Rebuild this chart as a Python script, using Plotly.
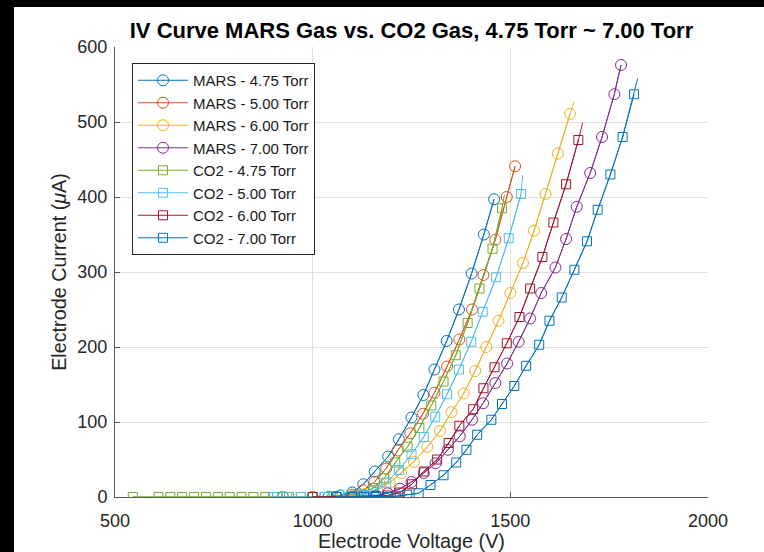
import plotly.graph_objects as go

# ---- measured IV data (voltage in V, current in uA) ----
mars_475_v = [925, 1000, 1040, 1070, 1100, 1128, 1157, 1191, 1218, 1250, 1280, 1308, 1339, 1370, 1402, 1433, 1459]
mars_475_i = [0, 0, 0, 2, 6, 17, 34, 54, 77, 106, 136, 170, 208, 250, 298, 350, 397]

mars_500_v = [925, 1000, 1050, 1100, 1128, 1156, 1186, 1215, 1247, 1279, 1308, 1340, 1371, 1403, 1432, 1462, 1491, 1512]
mars_500_i = [0, 0, 0, 3, 9, 20, 38, 62, 85, 111, 139, 174, 210, 250, 296, 343, 400, 441]

mars_600_v = [925, 1000, 1050, 1100, 1133, 1163, 1195, 1224, 1256, 1290, 1322, 1351, 1382, 1411, 1439, 1470, 1500, 1532, 1560, 1589, 1620, 1651]
mars_600_i = [0, 0, 0, 1, 4, 9, 19, 32, 47, 67, 88, 113, 138, 168, 200, 235, 272, 312, 355, 404, 458, 511]
mars_600_tip = ([1661], [527])

mars_700_v = [1060, 1100, 1130, 1160, 1190, 1221, 1250, 1281, 1311, 1342, 1372, 1403, 1431, 1462, 1492, 1521, 1550, 1578, 1614, 1641, 1668, 1702, 1732, 1763, 1780]
mars_700_i = [0, 0, 1, 2, 5, 11, 20, 32, 45, 63, 81, 103, 125, 152, 178, 207, 238, 272, 306, 344, 387, 432, 480, 537, 576]

co2_475_v = [545, 610, 640, 670, 700, 730, 760, 790, 820, 850, 880, 910, 940, 970, 1000, 1030, 1060, 1090, 1120,
             1153, 1181, 1209, 1240, 1270, 1300, 1331, 1362, 1392, 1422, 1455, 1479]
co2_475_i = [0, 0, 0, 0, 0, 0, 0, 0, 0, 0, 0, 0, 0, 0, 0, 0, 0, 0, 3,
             12, 25, 46, 67, 92, 122, 154, 189, 232, 278, 331, 385]
co2_475_tip = ([1485], [403])

co2_500_v = [900, 935, 970, 1000, 1030, 1060, 1090, 1125, 1155, 1186, 1218, 1250, 1281, 1310, 1340, 1370, 1401, 1430, 1464, 1496, 1527]
co2_500_i = [0, 0, 0, 0, 0, 0, 0, 3, 9, 19, 36, 57, 80, 107, 137, 170, 207, 247, 293, 345, 404]
co2_500_tip = ([1531], [429])

co2_600_v = [1000, 1060, 1100, 1130, 1160, 1190, 1220, 1251, 1281, 1315, 1344, 1371, 1406, 1432, 1460, 1491, 1523, 1550, 1581, 1609, 1641, 1672]
co2_600_i = [0, 0, 0, 0, 1, 2, 6, 17, 34, 50, 72, 95, 117, 145, 173, 205, 240, 278, 320, 366, 417, 476]
co2_600_tip = ([1683], [499])

co2_700_v = [1060, 1100, 1130, 1160, 1190, 1210, 1239, 1268, 1298, 1331, 1363, 1389, 1416, 1452, 1479, 1510, 1540,
             1573, 1599, 1630, 1662, 1694, 1721, 1753, 1784, 1813]
co2_700_i = [0, 0, 0, 0, 0, 1, 3, 5, 16, 29, 46, 63, 83, 103, 124, 148, 175,
             203, 235, 266, 303, 341, 383, 430, 480, 537]
co2_700_tip = ([1822], [558])

series = [
    ("MARS - 4.75 Torr", mars_475_v, mars_475_i, None, "#0072BD", "circle-open", 11),
    ("MARS - 5.00 Torr", mars_500_v, mars_500_i, None, "#D95319", "circle-open", 11),
    ("MARS - 6.00 Torr", mars_600_v, mars_600_i, mars_600_tip, "#EDB120", "circle-open", 11),
    ("MARS - 7.00 Torr", mars_700_v, mars_700_i, None, "#7E2F8E", "circle-open", 11),
    ("CO2 - 4.75 Torr", co2_475_v, co2_475_i, co2_475_tip, "#77AC30", "square-open", 9),
    ("CO2 - 5.00 Torr", co2_500_v, co2_500_i, co2_500_tip, "#4DBEEE", "square-open", 9),
    ("CO2 - 6.00 Torr", co2_600_v, co2_600_i, co2_600_tip, "#A2142F", "square-open", 9),
    ("CO2 - 7.00 Torr", co2_700_v, co2_700_i, co2_700_tip, "#0072BD", "square-open", 9),
]

FONT = "Liberation Sans, Arial, Helvetica, sans-serif"
AX = "#262626"

fig = go.Figure()
for name, v, i, tip, color, symbol, size in series:
    # full curve, including the segment past the last marked point
    lv, li = list(v), list(i)
    if tip is not None:
        lv += tip[0]
        li += tip[1]
    fig.add_trace(go.Scatter(x=lv, y=li, mode="lines", showlegend=False,
                             line=dict(color=color, width=1), hoverinfo="skip"))
    fig.add_trace(go.Scatter(x=v, y=i, mode="lines+markers", name=name,
                             line=dict(color=color, width=1),
                             marker=dict(symbol=symbol, size=size, color=color,
                                         line=dict(color=color, width=1))))

W, H = 764, 552
L, R, T, B = 115, 56, 47, 55
pw, ph = W - L - R, H - T - B


def px_x(p):
    return (p - L) / pw


def px_y(p):
    return (H - B - p) / ph


# thin black frame bands along the top and left edges, sized in pixels
# relative to the top-left corner of the plotting area
for x0, x1, y0, y1 in [(0, W, 0, 7), (0, 14, 0, H)]:
    fig.add_shape(type="rect", xref="paper", yref="paper", layer="above",
                  xsizemode="pixel", ysizemode="pixel", xanchor=0, yanchor=1,
                  x0=x0 - L, x1=x1 - L, y0=T - y1, y1=T - y0,
                  fillcolor="black", line=dict(width=0))

fig.update_layout(
    width=W, height=H,
    margin=dict(l=L, r=R, t=T, b=B, autoexpand=False),
    paper_bgcolor="white", plot_bgcolor="white",
    font=dict(family=FONT, color=AX, size=18),
    title=dict(text="<b>IV Curve MARS Gas vs. CO2 Gas, 4.75 Torr ~ 7.00 Torr</b>",
               x=(L + pw / 2) / W, xanchor="center", y=1 - 30 / H, yanchor="middle",
               font=dict(size=22, color="black")),
    xaxis=dict(range=[500, 2000], dtick=500, tick0=500, showgrid=True, gridcolor="#dfdfdf",
               gridwidth=1, zeroline=False, showline=True, linecolor="#5a5a5a", linewidth=1,
               ticks="inside", ticklen=5, tickcolor="#5a5a5a", ticklabelstandoff=7,
               automargin=False, tickfont=dict(size=18, color=AX),
               title=dict(text="Electrode Voltage (V)", font=dict(size=19.8, color=AX), standoff=5)),
    yaxis=dict(range=[0, 600], dtick=100, tick0=0, showgrid=True, gridcolor="#dfdfdf",
               gridwidth=1, zeroline=False, showline=True, linecolor="#5a5a5a", linewidth=1,
               ticks="inside", ticklen=5, tickcolor="#5a5a5a", ticklabelstandoff=3,
               automargin=False, tickfont=dict(size=18, color=AX),
               title=dict(text="Electrode Current (<i>μ</i>A)", font=dict(size=19.8, color=AX), standoff=5)),
    legend=dict(x=px_x(132), y=px_y(63), xanchor="left", yanchor="top",
                bgcolor="white", bordercolor="#262626", borderwidth=1,
                font=dict(size=15, color="#1a1a1a"), itemwidth=50, tracegroupgap=0),
)

fig.write_html("out.html")
